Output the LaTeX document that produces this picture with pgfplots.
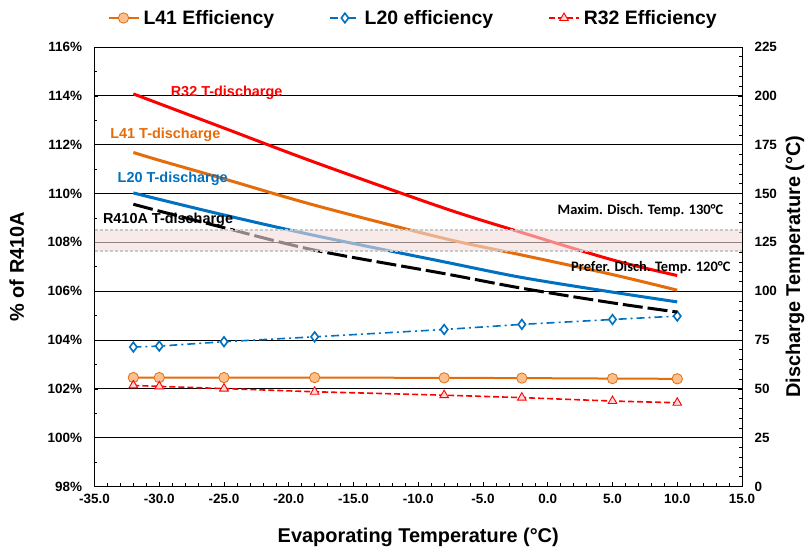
\documentclass[border=0pt]{standalone}
\usepackage{pgfplots}
\usepackage{pgfplotstable}
\pgfplotsset{compat=1.18}
\usepackage{fontspec}
\setmainfont{Liberation Sans}
\newfontfamily\carlito{Carlito}
\newcommand\fs[1]{\fontsize{#1}{#1}\selectfont}
\definecolor{cOrange}{HTML}{E46C0A}
\definecolor{cOrangeFill}{HTML}{FAC090}
\definecolor{cBlue}{HTML}{0070C0}
\definecolor{cRed}{HTML}{FF0000}
\definecolor{cBand}{HTML}{F2DCDB}
\definecolor{cBandEdge}{HTML}{C8C8C8}

\pgfplotstableread{
x L41 L20 R32
-32 102.46 103.71 102.14
-30 102.46 103.75 102.10
-25 102.46 103.93 102.01
-18 102.46 104.13 101.88
-8 102.45 104.43 101.74
-2 102.44 104.64 101.64
5 102.42 104.84 101.50
10 102.41 104.98 101.43
}\eff

\pgfplotstableread{
x R32 L41 L20 R410A
-32 201 171 150.3 144.5
-30 196 167 147 141
-25 183.5 157.5 139 132.5
-18 166 144 128.5 121
-8 142.5 127 115 109
-2 130 118.5 107 101.5
5 116 108.5 99.5 94
10 108 100.5 94.5 89.3
}\tdis

\begin{document}
\begin{tikzpicture}
\begin{axis}[
 at={(0,0)}, anchor=south west,
 width=647.5bp, height=439.5bp, scale only axis,
 xmin=-35, xmax=15, ymin=98, ymax=116,
 xtick={-35,-30,...,15}, ytick={98,100,...,116},
 minor x tick num=4, minor y tick num=1,
 xtick pos=bottom, ytick pos=left,
 tick align=inside,
 major tick length=4bp, minor tick length=3bp,
 tick style={black, line width=0.6bp},
 axis line style={black, line width=0.9bp},
 ymajorgrids, major grid style={black, line width=0.7bp},
 /pgf/number format/assume math mode=true,
 xticklabel style={font=\bfseries\fs{13.5}, yshift=-4bp, /pgf/number format/.cd, fixed, fixed zerofill, precision=1},
 yticklabel={\pgfmathprintnumber[fixed,precision=0]{\tick}\%},
 yticklabel style={font=\bfseries\fs{13.5}, xshift=-9bp},
 xlabel={Evaporating Temperature (°C)},
 ylabel={\% of R410A},
 xlabel style={font=\bfseries\fs{20}, at={(axis description cs:0.5,-0.115)}, anchor=center},
 ylabel style={font=\bfseries\fs{20}, at={(axis description cs:-0.12,0.5)}, anchor=center},
 legend style={at={(axis description cs:0.492,1.066)}, anchor=center, draw=none, fill=none,
   font=\bfseries\fs{19.5}, /tikz/every even column/.append style={column sep=53bp},
   /tikz/every odd column/.append style={column sep=2bp}},
 legend columns=3,
 legend cell align=left,
 legend image code/.code={\draw[mark repeat=2,mark phase=2,#1] plot coordinates {(0bp,0bp) (15bp,0bp) (30bp,0bp)};},
]
\addplot[cOrange, line width=2bp, mark=*, mark size=5.2bp, mark options={fill=cOrangeFill, draw=cOrange, line width=0.8bp, solid}] table[x=x,y=L41]{\eff};
\addlegendentry{L41 Efficiency}
\addplot[cBlue, line width=1.6bp, dash pattern=on 8bp off 4bp on 2bp off 4bp, mark=diamond*, mark size=4.8bp, mark options={fill=white, draw=cBlue, line width=1.6bp, solid}] table[x=x,y=L20]{\eff};
\addlegendentry{L20 efficiency}
\addplot[cRed, line width=1.6bp, dash pattern=on 6bp off 3bp, mark=triangle*, mark size=5bp, mark options={fill=cRed!15, draw=cRed, line width=0.9bp, solid}] table[x=x,y=R32]{\eff};
\addlegendentry{R32 Efficiency}
\end{axis}

\begin{axis}[
 at={(0,0)}, anchor=south west,
 width=647.5bp, height=439.5bp, scale only axis,
 xmin=-35, xmax=15, ymin=0, ymax=225,
 axis x line=none, axis y line*=right,
 ytick={0,25,...,225}, minor y tick num=4,
 tick align=inside,
 major tick length=4bp, minor tick length=3bp,
 tick style={black, line width=0.6bp},
 axis line style={black, line width=0.9bp},
 /pgf/number format/assume math mode=true,
 yticklabel style={font=\bfseries\fs{13.5}, xshift=9bp},
 ylabel={Discharge Temperature (°C)},
 ylabel style={font=\bfseries\fs{20}, at={(axis description cs:1.082,0.5)}, anchor=center, rotate=0},
]
\addplot[cRed, line width=3bp, smooth] table[x=x,y=R32]{\tdis};
\addplot[cOrange, line width=3bp, smooth] table[x=x,y=L41]{\tdis};
\addplot[cBlue, line width=3bp, smooth] table[x=x,y=L20]{\tdis};
\addplot[black, line width=3bp, dash pattern=on 20bp off 5bp, smooth] table[x=x,y=R410A]{\tdis};
\fill[cBand, opacity=0.6] (axis cs:-35,120.5) rectangle (axis cs:15,131.2);
\draw[cBandEdge, line width=1.5bp, dash pattern=on 3bp off 2bp] (axis cs:-35,120.5) -- (axis cs:15,120.5);
\draw[cBandEdge, line width=1.5bp, dash pattern=on 3bp off 2bp] (axis cs:-35,131.2) -- (axis cs:15,131.2);
\node[text=cRed, font=\bfseries\fs{14.5}] at (axis cs:-24.8,201.4) {R32 T-discharge};
\node[text=cOrange, font=\bfseries\fs{14.5}] at (axis cs:-29.53,179.9) {L41 T-discharge};
\node[text=cBlue, font=\bfseries\fs{14.5}] at (axis cs:-28.96,157.4) {L20 T-discharge};
\node[text=black, font=\bfseries\fs{14.5}] at (axis cs:-29.32,136.7) {R410A T-discharge};
\node[font=\carlito\bfseries\fs{14.5}] at (axis cs:7.16,141.5) {Maxim. Disch. Temp. 130°C};
\node[font=\carlito\bfseries\fs{14.5}] at (axis cs:7.96,112.2) {Prefer. Disch. Temp. 120°C};
\end{axis}
\pgfresetboundingbox
\path[use as bounding box] (-94.5bp,-66.5bp) rectangle (712.5bp,486.5bp);
\end{tikzpicture}
\end{document}
